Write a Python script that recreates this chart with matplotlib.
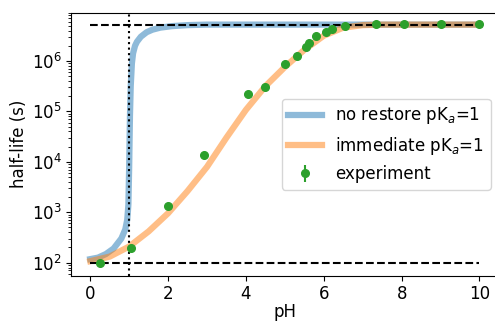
import numpy as np
import matplotlib.pyplot as plt

# model curves, log10 of half-life in seconds
ph_norestore = [0.0, 0.2, 0.4, 0.6, 0.8, 0.9, 0.95, 0.98, 1.0, 1.02, 1.04, 1.07, 1.1, 1.15, 1.2, 1.3, 1.45, 1.6, 1.8, 2.1, 2.5, 3.0, 4.0, 6.0, 10.0]
log_norestore = [2.07, 2.10, 2.17, 2.28, 2.48, 2.66, 2.85, 3.15, 3.9, 4.9, 5.5, 5.95, 6.15, 6.3, 6.38, 6.48, 6.57, 6.62, 6.66, 6.69, 6.71, 6.72, 6.72, 6.72, 6.72]

ph_immediate = [0.0, 0.5, 1.0, 1.5, 2.0, 2.5, 3.0, 3.5, 4.0, 4.5, 5.0, 5.5, 6.0, 6.5, 7.0, 7.5, 8.0, 9.0, 10.0]
log_immediate = [2.03, 2.12, 2.32, 2.62, 2.98, 3.42, 3.90, 4.48, 5.03, 5.50, 5.88, 6.22, 6.50, 6.66, 6.71, 6.72, 6.72, 6.72, 6.72]

# measured half-lives
ph_exp = [0.25, 1.05, 2.0, 2.92, 4.05, 4.5, 5.0, 5.3, 5.55, 5.63, 5.8, 6.05, 6.2, 6.55, 7.35, 8.05, 9.0, 10.0]
hl_exp = [97, 195, 1320, 1.37e4, 2.2e5, 3.0e5, 8.7e5, 1.28e6, 1.9e6, 2.25e6, 3.1e6, 3.7e6, 4.3e6, 5.0e6, 5.3e6, 5.3e6, 5.3e6, 5.3e6]
hl_err = [8, 15, 90, 900, 1.5e4, 2e4, 5e4, 8e4, 1e5, 1.2e5, 1.5e5, 2e5, 2e5, 2.5e5, 2.5e5, 2.5e5, 2.5e5, 2.5e5]

hl_max = 5.25e6
hl_min = 100
pka = 1

fig = plt.figure(figsize=(4.95, 3.22), dpi=100)
ax = fig.add_axes([0.143, 0.143, 0.865, 0.818])

ax.plot(ph_norestore, 10**np.array(log_norestore), color='C0', lw=4.5, alpha=0.5, label=r'no restore pK$_a$=1')
ax.plot(ph_immediate, 10**np.array(log_immediate), color='C1', lw=4.5, alpha=0.5, label=r'immediate pK$_a$=1')
ax.errorbar(ph_exp, hl_exp, yerr=hl_err, fmt='o', color='C2', ms=5.5, label='experiment')

ax.hlines([hl_max, hl_min], 0, 10, colors='k', linestyles='--')
ax.axvline(pka, color='k', ls=':')

ax.set_yscale('log')
ax.set_xlim(-0.5, 10.5)
ax.set_ylim(54.5, 9.1e6)
ax.set_xticks([0, 2, 4, 6, 8, 10])
ax.tick_params(labelsize=12, pad=3)
ax.set_xlabel('pH', fontsize=12, labelpad=0)
ax.set_ylabel('half-life (s)', fontsize=12, labelpad=3)
ax.legend(loc='center right', fontsize=12)

fig.savefig('out.png', dpi=100)
